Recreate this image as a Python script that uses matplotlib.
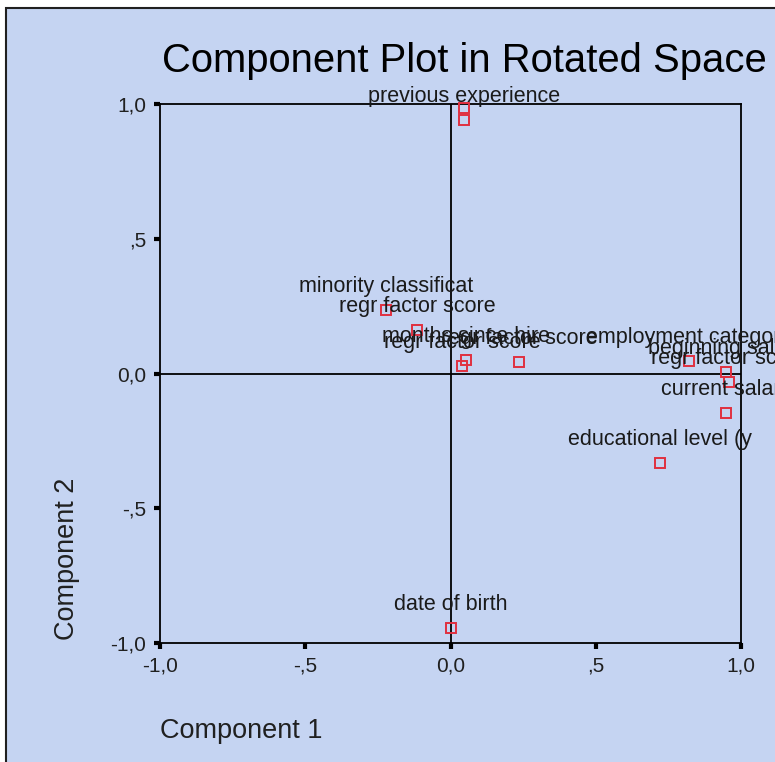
import matplotlib
matplotlib.use("Agg")
import matplotlib.pyplot as plt
from matplotlib.patches import Rectangle

# ---- data ----
labels = ["previous experience", "", "minority classificat", "regr factor score",
          "months since hire", "regr factor score", "regr factor score",
          "employment category", "beginning salary", "regr factor score",
          "current salary", "educational level (y", "date of birth"]
comp1 = [0.046, 0.046, -0.222, -0.115, 0.053, 0.040, 0.236,
         0.82, 0.948, 0.959, 0.948, 0.721, 0.002]
comp2 = [0.940, 0.985, 0.236, 0.161, 0.050, 0.028, 0.043,
         0.046, 0.006, -0.031, -0.147, -0.332, -0.944]
tick_vals = [-1.0, -0.5, 0.0, 0.5, 1.0]
tick_labels = ["-1,0", "-,5", "0,0", ",5", "1,0"]

BG = "#C5D4F2"
FONT = "Liberation Sans"

W, H = 775, 762
fig = plt.figure(figsize=(W / 100, H / 100), dpi=100)
fig.patch.set_facecolor("white")

# chart background panel with dark frame
fig.patches.append(Rectangle((6 / W, -0.05), 1.2, 1 - 8 / H + 0.05,
                             transform=fig.transFigure, facecolor=BG,
                             edgecolor="#202020", linewidth=1.5, zorder=-5))

ax = fig.add_axes([160 / W, 1 - 643 / H, (741 - 160) / W, (643 - 104) / H])
ax.set_zorder(2)
ax.set_facecolor(BG)
ax.set_xlim(-1, 1)
ax.set_ylim(-1, 1)
for s in ax.spines.values():
    s.set_color("black")
    s.set_linewidth(1.3)

ax.axhline(0, color="black", lw=1.3, zorder=1)
ax.axvline(0, color="black", lw=1.3, zorder=1)

ax.set_xticks(tick_vals)
ax.set_xticklabels(tick_labels)
ax.set_yticks(tick_vals)
ax.set_yticklabels(tick_labels)
ax.tick_params(direction="out", length=4, width=3, color="black",
               labelsize=15, pad=6)
for t in ax.get_xticklabels() + ax.get_yticklabels():
    t.set_fontfamily(FONT)
    t.set_color("#202020")

ax.plot(comp1, comp2, linestyle="none", marker="s", markersize=7,
        markerfacecolor="none", markeredgecolor="#E03040",
        markeredgewidth=1.4, zorder=3, clip_on=False)

for x, y, lab in zip(comp1, comp2, labels):
    if lab:
        ax.annotate(lab, (x, y), xytext=(0, 13), textcoords="offset points",
                    ha="center", va="baseline", fontsize=15.5, family=FONT,
                    color="#1a1a1a", annotation_clip=False, zorder=4)

fig.text(464 / W, 1 - 61 / H, "Component Plot in Rotated Space",
         ha="center", va="center", fontsize=28.8, family=FONT, color="black")
fig.text(160 / W, 1 - 731 / H, "Component 1", ha="left", va="center",
         fontsize=19.5, family=FONT, color="#202020")
fig.text(67 / W, 1 - 640 / H, "Component 2", ha="center", va="bottom",
         rotation=90, fontsize=19.5, family=FONT, color="#202020")

fig.savefig("out.png", dpi=100, facecolor=fig.get_facecolor())
